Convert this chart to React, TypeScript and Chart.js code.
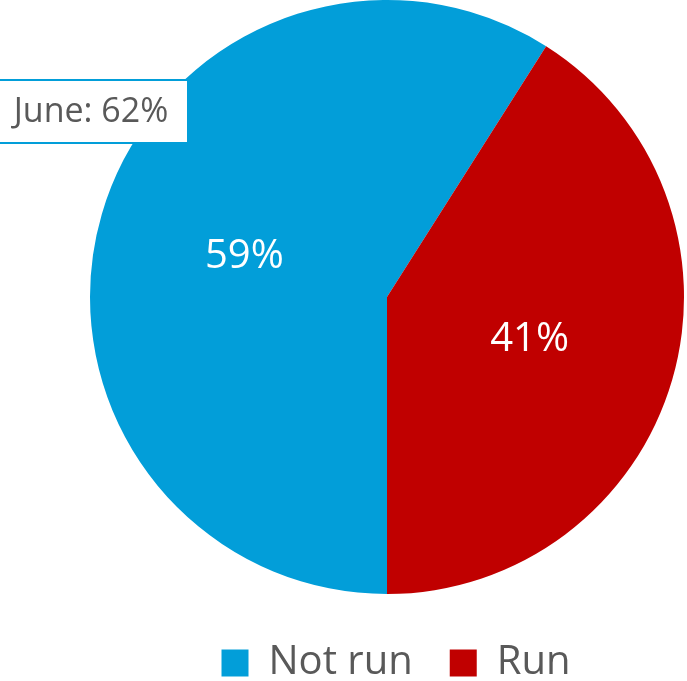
import React, { useEffect, useRef } from "react";
import { Chart, registerables } from "chart.js";

Chart.register(...registerables);

const categories = ["Not run", "Run"];
const values = [59, 41];
const colors = ["#029ED9", "#C00000"];
const calloutText = "June: 62%";

const FONT = "'Open Sans', 'DejaVu Sans', sans-serif";

const sliceLabels = {
  id: "sliceLabels",
  afterDatasetsDraw(chart: any) {
    const ctx = chart.ctx;
    const meta = chart.getDatasetMeta(0);
    const data = chart.data.datasets[0].data as number[];
    const total = data.reduce((a, b) => a + b, 0);
    ctx.save();
    ctx.fillStyle = "#ffffff";
    ctx.font = `40px ${FONT}`;
    ctx.textAlign = "center";
    ctx.textBaseline = "middle";
    meta.data.forEach((arc: any, i: number) => {
      const p = arc.tooltipPosition();
      ctx.fillText(Math.round((data[i] / total) * 100) + "%", p.x, p.y + 1);
    });
    ctx.restore();
  },
};

const legendShift = {
  id: "legendShift",
  afterLayout(chart: any) {
    const lg = chart.legend;
    if (!lg) return;
    lg.top += 12;
    lg.bottom += 12;
    lg.left += 9;
    lg.right += 9;
  },
};

const callout = {
  id: "callout",
  afterDraw(chart: any) {
    const ctx = chart.ctx;
    const area = chart.chartArea;
    const x0 = area.left - 92;
    const y0 = area.top + 80;
    const w = 190;
    const h = 63;
    ctx.save();
    ctx.fillStyle = "#ffffff";
    ctx.fillRect(x0, y0, w, h);
    ctx.strokeStyle = "#029ED9";
    ctx.lineWidth = 2;
    ctx.strokeRect(x0, y0, w, h);
    ctx.fillStyle = "#595959";
    ctx.font = `34px ${FONT}`;
    ctx.textAlign = "center";
    ctx.textBaseline = "middle";
    ctx.fillText(calloutText, x0 + 93, y0 + h / 2 + 1);
    ctx.restore();
  },
};

export default function App() {
  const ref = useRef<HTMLCanvasElement>(null);
  useEffect(() => {
    if (!ref.current) return;
    const chart = new Chart(ref.current, {
      type: "pie",
      data: {
        labels: categories,
        datasets: [
          {
            data: values,
            backgroundColor: colors,
            borderWidth: 0,
          },
        ],
      },
      options: {
        animation: false,
        responsive: true,
        maintainAspectRatio: false,
        rotation: 180,
        layout: { padding: { left: 90, right: 3, top: 0, bottom: 0 } },
        plugins: {
          tooltip: { enabled: false },
          legend: {
            position: "bottom",
            labels: {
              boxWidth: 27,
              boxHeight: 27,
              padding: 37,
              color: "#595959",
              font: { family: FONT, size: 40 },
            },
          },
        },
      },
      plugins: [sliceLabels, legendShift, callout],
    });
    return () => chart.destroy();
  }, []);
  return (
    <div style={{ position: "absolute", left: 0, top: 0, width: 687, height: 681 }}>
      <canvas ref={ref} />
    </div>
  );
}
